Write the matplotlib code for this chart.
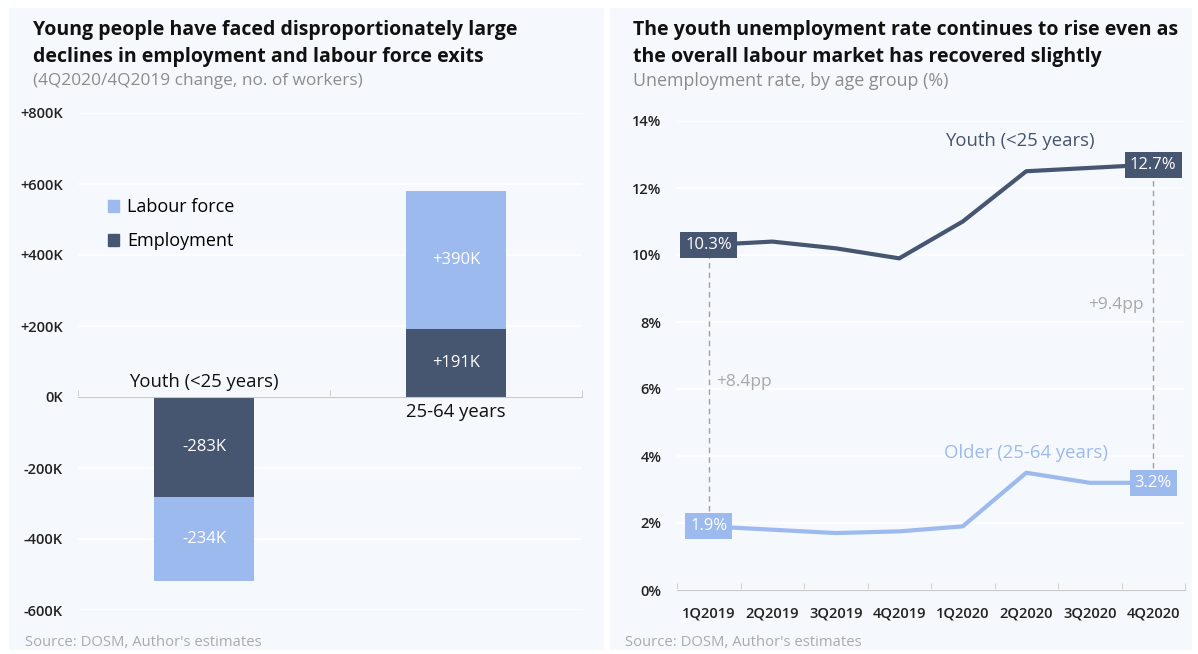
import numpy as np
import matplotlib
matplotlib.use('Agg')
import matplotlib.pyplot as plt
from matplotlib.patches import Rectangle, Patch

plt.rcParams['font.family'] = ['Open Sans', 'DejaVu Sans']

# Left chart data (thousands of workers)
groups = ['Youth (<25 years)', '25-64 years']
employment = [-283, 191]
labour_force = [-234, 390]

# Right chart data (%)
quarters = ['1Q2019', '2Q2019', '3Q2019', '4Q2019', '1Q2020', '2Q2020', '3Q2020', '4Q2020']
youth_rate = [10.3, 10.4, 10.2, 9.9, 11.0, 12.5, 12.6, 12.7]
older_rate = [1.9, 1.8, 1.7, 1.75, 1.9, 3.5, 3.2, 3.2]

DARK = '#465570'
LIGHT = '#9dbaee'
BG = '#f5f8fd'
GREY_TXT = '#8c8c8c'
TICK_TXT = '#222222'

W, H = 1198, 654
fig = plt.figure(figsize=(W / 100, H / 100), dpi=100)
fig.patch.set_facecolor('white')

# panel backgrounds
for x0, x1 in [(9, 604), (610, 1192)]:
    fig.patches.append(Rectangle((x0 / W, 4 / H), (x1 - x0) / W, (646 - 4) / H,
                                 transform=fig.transFigure, facecolor=BG, edgecolor='none', zorder=-10))

# titles
left_title = ['Young people have faced disproportionately large', 'declines in employment and labour force exits']
right_title = ['The youth unemployment rate continues to rise even as', 'the overall labour market has recovered slightly']
for tx, lines in [(33, left_title), (633, right_title)]:
    for k, line in enumerate(lines):
        fig.text(tx / W, 1 - (30 + 27 * k) / H, line, fontsize=14, fontweight='bold', color='#111111', va='center')
fig.text(33 / W, 1 - 81 / H, '(4Q2020/4Q2019 change, no. of workers)', fontsize=12.4, color=GREY_TXT, va='center')
fig.text(633 / W, 1 - 81 / H, 'Unemployment rate, by age group (%)', fontsize=12.9, color=GREY_TXT, va='center')

fig.text(25 / W, 1 - 642 / H, "Source: DOSM, Author's estimates", fontsize=10.7, color='#aaaaaa', va='center')
fig.text(625 / W, 1 - 642 / H, "Source: DOSM, Author's estimates", fontsize=10.7, color='#aaaaaa', va='center')

# ---------------- left chart ----------------
ax1 = fig.add_axes([78 / W, 1 - 610 / H, 504 / W, 497 / H])
ax1.set_facecolor('none')
x = np.arange(len(groups))
bw = 0.4
emp = np.array(employment)
lf = np.array(labour_force)
ax1.bar(x, emp, bw, color=DARK, zorder=3)
ax1.bar(x, lf, bw, bottom=emp, color=LIGHT, zorder=3)

for i in range(len(groups)):
    ax1.text(x[i], emp[i] / 2, f'{emp[i]:+d}K', ha='center', va='center', color='white', fontsize=12, zorder=4)
    ax1.text(x[i], emp[i] + lf[i] / 2, f'{lf[i]:+d}K', ha='center', va='center', color='white', fontsize=12, zorder=4)
    if emp[i] < 0:
        ax1.text(x[i], 18, groups[i], ha='center', va='bottom', fontsize=13.3, color='#111111')
    else:
        ax1.text(x[i], -18, groups[i], ha='center', va='top', fontsize=13.3, color='#111111')

ax1.set_xlim(-0.5, len(groups) - 0.5)
ax1.set_ylim(-600, 800)
yt = np.arange(-600, 801, 200)
ax1.set_yticks(yt)
ax1.set_yticklabels(['0K' if v == 0 else f'{v:+d}K' for v in yt])
ax1.grid(axis='y', color='white', linewidth=1.2, zorder=1)
for s in ['top', 'right', 'left']:
    ax1.spines[s].set_visible(False)
ax1.spines['bottom'].set_position(('data', 0))
ax1.spines['bottom'].set_color('#c8c8c8')
ax1.spines['bottom'].set_zorder(5)
ax1.set_xticks([])
ax1.set_xticks(np.arange(-0.5, len(groups), 1), minor=True)
ax1.tick_params(axis='x', which='minor', direction='in', length=5, color='#c8c8c8')
ax1.tick_params(axis='y', length=0, pad=11, labelsize=10.5, labelcolor=TICK_TXT)
for lbl in ax1.get_yticklabels():
    lbl.set_fontweight('semibold')

handles = [Patch(color=LIGHT, label='Labour force'), Patch(color=DARK, label='Employment')]
ax1.legend(handles=handles, loc='upper left', bbox_to_anchor=(92 / W, 1 - 182 / H), bbox_transform=fig.transFigure,
           frameon=False, fontsize=13, handlelength=0.6, handleheight=0.6, handletextpad=0.45, labelspacing=0.9)

# ---------------- right chart ----------------
ax2 = fig.add_axes([677 / W, 1 - 590 / H, 508 / W, 469 / H])
ax2.set_facecolor('none')
xq = np.arange(len(quarters))
ax2.plot(xq, youth_rate, color=DARK, linewidth=3, zorder=3, solid_joinstyle='round')
ax2.plot(xq, older_rate, color=LIGHT, linewidth=3, zorder=3, solid_joinstyle='round')

ax2.set_xlim(-0.5, len(quarters) - 0.5)
ax2.set_ylim(0, 14)
ax2.set_yticks(np.arange(0, 15, 2))
ax2.set_yticklabels([f'{v}%' for v in range(0, 15, 2)])
ax2.grid(axis='y', color='white', linewidth=1.2, zorder=1)
for s in ['top', 'right', 'left']:
    ax2.spines[s].set_visible(False)
ax2.spines['bottom'].set_color('#c8c8c8')
ax2.set_xticks(xq)
ax2.set_xticklabels(quarters)
ax2.set_xticks(np.arange(-0.5, len(quarters), 1), minor=True)
ax2.tick_params(axis='x', which='minor', direction='in', length=5, color='#c8c8c8')
ax2.tick_params(axis='x', which='major', length=0, pad=12, labelsize=10.5, labelcolor=TICK_TXT)
ax2.tick_params(axis='y', length=0, pad=11, labelsize=10.5, labelcolor=TICK_TXT)
for lbl in ax2.get_yticklabels() + ax2.get_xticklabels():
    lbl.set_fontweight('semibold')

# dashed gap lines
ax2.vlines([xq[0]], older_rate[0] + 0.45, youth_rate[0] - 0.35, colors='#a0a0a0', linestyles=(0, (4, 3)), linewidth=1, zorder=2)
ax2.vlines([xq[-1]], older_rate[-1] + 0.45, youth_rate[-1] - 0.35, colors='#a0a0a0', linestyles=(0, (4, 3)), linewidth=1, zorder=2)
ax2.text(xq[0] + 0.12, 6.2, '+8.4pp', fontsize=12.5, color='#a8a8a8', ha='left', va='center')
ax2.text(xq[-1] - 0.15, 8.5, '+9.4pp', fontsize=12.5, color='#a8a8a8', ha='right', va='center')

# value boxes
for xi, yi, col in [(xq[0], youth_rate[0], DARK), (xq[-1], youth_rate[-1], DARK),
                    (xq[0], older_rate[0], LIGHT), (xq[-1], older_rate[-1], LIGHT)]:
    ax2.text(xi, yi, f'{yi:.1f}%', ha='center', va='center', color='white', fontsize=12, zorder=5,
             bbox=dict(boxstyle='square,pad=0.3', facecolor=col, edgecolor='none'))

ax2.text(4.9, 13.4, 'Youth (<25 years)', color=DARK, fontsize=13.3, ha='center', va='center')
ax2.text(5.0, 4.1, 'Older (25-64 years)', color=LIGHT, fontsize=13.3, ha='center', va='center')

fig.savefig('out.png', dpi=100)
